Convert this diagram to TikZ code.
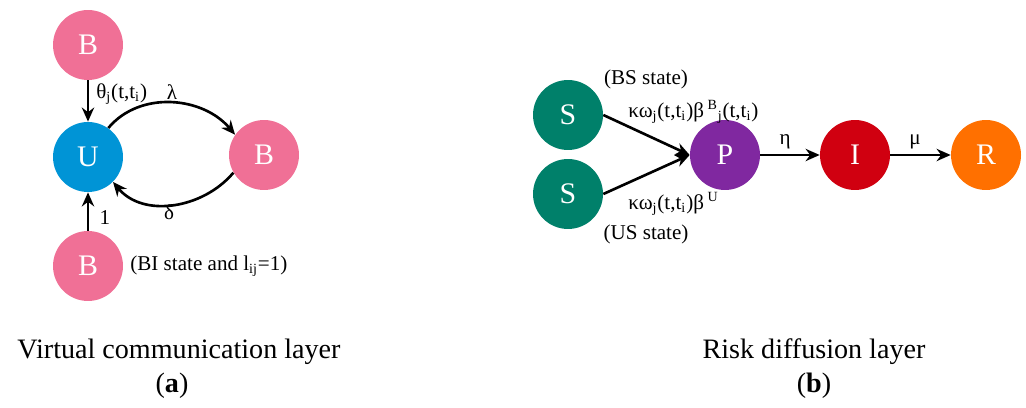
\documentclass[tikz,border=0pt]{standalone}
\usepackage{fontspec}
\setmainfont{LiberationSerif}[Extension=.ttf,UprightFont=*-Regular,
  BoldFont=*-Bold,ItalicFont=*-Italic,BoldItalicFont=*-BoldItalic]
\usetikzlibrary{arrows.meta}

\definecolor{bpink}{RGB}{240,112,150}
\definecolor{ublue}{RGB}{0,148,214}
\definecolor{steal}{RGB}{0,128,106}
\definecolor{ppurple}{RGB}{128,40,160}
\definecolor{ired}{RGB}{208,0,16}
\definecolor{rorange}{RGB}{255,112,0}

\tikzset{
  state/.style={circle,minimum size=1.4cm,inner sep=0pt,text=white,
    font=\fontsize{17}{17}\selectfont},
  flow/.style={-{Stealth[length=8pt,width=7pt]},line width=1.5pt},
  lbl/.style={font=\fontsize{12}{14}\selectfont,inner sep=0pt},
  capt/.style={font=\fontsize{16}{18}\selectfont,inner sep=0pt}
}

\begin{document}
\begin{tikzpicture}[x=0.02cm,y=0.02cm]
\useasboundingbox (0,0) rectangle (1026,-408);

% Virtual communication layer: states
\node[state,fill=bpink] (Btop) at (88,-45) {B};
\node[state,fill=ublue] (U) at (88,-157) {U};
\node[state,fill=bpink] (Bright) at (264,-155) {B};
\node[state,fill=bpink] (Bbot) at (88,-266) {B};

% Transitions
\draw[flow] (Btop) -- (U);
\draw[flow] (Bbot) -- (U);
\draw[flow] (U.55) to[out=50,in=130] (Bright.145);
\draw[flow] (Bright.-150) to[out=-130,in=-50] (U.-45);

% Rates
\node[lbl,anchor=west] (theta) at (96,-94) {θ\textsubscript{j}(t,t\textsubscript{i})};
\node[lbl] (lambda) at (172,-92) {λ};
\node[lbl] (delta) at (169,-212) {δ};
\node[lbl] (one) at (105,-218) {1};
\node[lbl,anchor=west] (bistate) at (130,-266) {(BI state and l\textsubscript{ij}=1)};

% Risk diffusion layer: states
\node[state,fill=steal] (Stop) at (568,-115) {S};
\node[state,fill=steal] (Sbot) at (568,-194) {S};
\node[state,fill=ppurple] (P) at (725,-155) {P};
\node[state,fill=ired] (I) at (855,-155) {I};
\node[state,fill=rorange] (R) at (986,-155) {R};

% Transitions
\draw[flow] (Stop.east) -- (P.west);
\draw[flow] (Sbot.east) -- (P.west);
\draw[flow] (P) -- (I);
\draw[flow] (I) -- (R);

% Rates
\node[lbl] (bsstate) at (646,-79) {(BS state)};
\node[lbl,anchor=west] (betaB) at (628,-112) {κω\textsubscript{j}(t,t\textsubscript{i})β\,\textsuperscript{B}\textsubscript{j}(t,t\textsubscript{i})};
\node[lbl,anchor=west] (betaU) at (628,-204) {κω\textsubscript{j}(t,t\textsubscript{i})β\,\textsuperscript{U}};
\node[lbl] (usstate) at (646,-234) {(US state)};
\node[lbl] (eta) at (785,-142) {η};
\node[lbl] (mu) at (915,-142) {μ};

% Captions
\node[capt] (capa) at (179,-352) {Virtual communication layer};
\node[capt] (suba) at (172,-386) {(\textbf{a})};
\node[capt] (capb) at (814,-352) {Risk diffusion layer};
\node[capt] (subb) at (814,-386) {(\textbf{b})};

\end{tikzpicture}
\end{document}
